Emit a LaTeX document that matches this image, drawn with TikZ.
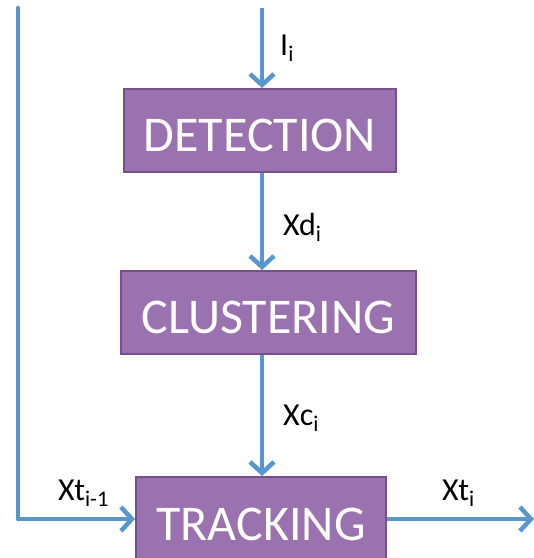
\documentclass[tikz,border=0pt]{standalone}
\usepackage{fontspec}
\setmainfont{Carlito}
\usetikzlibrary{arrows.meta}
\definecolor{boxfill}{RGB}{155,114,176}
\definecolor{boxline}{RGB}{118,80,138}
\definecolor{flow}{RGB}{88,150,208}
\begin{document}
\begin{tikzpicture}[x=1pt,y=-1pt,
  procbox/.style={draw=boxline,line width=2pt,fill=boxfill,text=white,
    font=\fontsize{50}{50}\selectfont,inner sep=0pt,anchor=north west},
  boxtext/.style={text=white,font=\fontsize{50}{50}\selectfont,yshift=-5pt},
  flowline/.style={draw=flow,line width=4.5pt,-{Straight Barb[length=11pt,width=24pt,line width=4.5pt]}},
  plain/.style={draw=flow,line width=4.5pt},
  lab/.style={font=\fontsize{32}{32}\selectfont,inner sep=0pt}]
\useasboundingbox (0,0) rectangle (534,558);
\node[procbox,minimum width=272pt,minimum height=83pt] (det) at (123,88) {};
\node[boxtext] (dett) at (det.center) {DETECTION};
\node[procbox,minimum width=295pt,minimum height=83pt] (clu) at (120,270) {};
\node[boxtext] (clut) at (clu.center) {CLUSTERING};
\node[procbox,minimum width=250pt,minimum height=84pt] (trk) at (135,476) {};
\node[boxtext] (trkt) at (trk.center) {TRACKING};
\coordinate (xl) at (262,0);
\coordinate (top) at (262,8);
\coordinate (lefttop) at (18,8);
\coordinate (corner) at (18,519);
\coordinate (outend) at (534,519);
\draw[flowline] (top) -- (det.north -| xl);
\draw[flowline] (det.south -| xl) -- (clu.north -| xl);
\draw[flowline] (clu.south -| xl) -- (trk.north -| xl);
\draw[plain,line cap=round] (lefttop) -- (corner);
\draw[flowline,line join=round] (corner) -- (corner -| trk.west);
\draw[flowline] (corner -| trk.east) -- (outend);
\node[lab,anchor=base west] (li) at (280,55) {I\textsubscript{i}};
\node[lab,anchor=base west] (lxd) at (283,235) {Xd\textsubscript{i}};
\node[lab,anchor=base west] (lxc) at (283,425) {Xc\textsubscript{i}};
\node[lab,anchor=base west] (lxt1) at (58,500) {Xt\textsubscript{i-1}};
\node[lab,anchor=base west] (lxt) at (442,500) {Xt\textsubscript{i}};
\end{tikzpicture}
\end{document}
